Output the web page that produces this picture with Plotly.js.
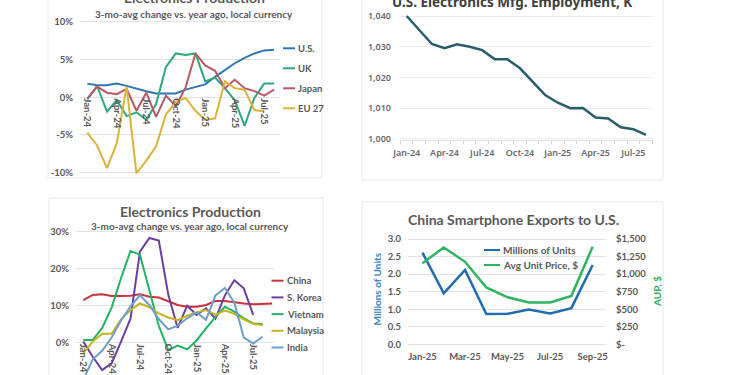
<!DOCTYPE html>
<html><head><meta charset="utf-8">
<script src="https://cdn.plot.ly/plotly-3.0.1.min.js"></script>
<style>html,body{margin:0;padding:0;background:#fff;}#chart{width:750px;height:375px;}</style>
</head><body><div id="chart"></div>
<script>
// ---------- DATA ----------
const months24to25 = ['Jan-24','Feb-24','Mar-24','Apr-24','May-24','Jun-24','Jul-24','Aug-24','Sep-24','Oct-24','Nov-24','Dec-24',
  'Jan-25','Feb-25','Mar-25','Apr-25','May-25','Jun-25','Jul-25','Aug-25','Sep-25'];
const monthsTL = months24to25.slice(0, 20);
const monthsBL = months24to25.slice(0, 21);
const monthsBR = ['Jan-25','Feb-25','Mar-25','Apr-25','May-25','Jun-25','Jul-25','Aug-25','Sep-25'];

// Top-left: Electronics Production (U.S., UK, Japan, EU 27), %
const prodUS    = [1.8, 1.6, 1.6, 1.8, 1.5, 1.2, 0.8, 0.5, 0.5, 0.5, 1.0, 1.4, 1.7, 2.7, 3.6, 4.5, 5.2, 5.8, 6.2, 6.3];
const prodUK    = [-0.3, 1.5, -1.9, -0.4, -2.5, -2.0, -3.0, -0.9, 4.0, 5.8, 5.6, 5.8, 2.1, 2.6, 1.2, -0.4, -3.8, -0.1, 1.8, 1.8];
const prodJapan = [-0.2, 1.4, 0.6, 0.4, 1.1, -1.8, 0.6, -2.6, 0.2, -1.2, 1.3, 5.8, 4.2, 3.5, 1.2, 2.3, 1.2, 0.8, 0.2, 1.0];
const prodEU27  = [-4.7, -6.4, -9.4, -6.1, 1.4, -10.1, -8.4, -6.5, -2.3, -0.6, -0.1, -1.8, -3.0, -2.8, 2.1, 1.2, 1.0, -1.7, -1.9];
const tlNames = ['U.S.', 'UK', 'Japan', 'EU 27'];
const tlTickVals = ['Jan-24','Apr-24','Jul-24','Oct-24','Jan-25','Apr-25','Jul-25'];
const tlYVals = [-10, -5, 0, 5, 10];
const tlYText = ['-10%', '-5%', '0%', '5%', '10%'];

// Top-right: U.S. Electronics Mfg. Employment, K
const employment = [1040.0, 1035.4, 1030.9, 1029.5, 1030.8, 1030.0, 1028.9, 1025.9, 1025.9, 1023.0, 1018.6, 1014.3,
  1011.8, 1010.0, 1010.1, 1007.0, 1006.7, 1003.8, 1003.2, 1001.3];
const trTickText = ['Jan-24','','','Apr-24','','','Jul-24','','','Oct-24','','','Jan-25','','','Apr-25','','','Jul-25',''];
const trYVals = [1000, 1010, 1020, 1030, 1040];
const trYText = ['1,000', '1,010', '1,020', '1,030', '1,040'];

// Bottom-left: Electronics Production (China, S. Korea, Vietnam, Malaysia, India), %
const prodChina    = [11.5, 12.9, 13.1, 12.6, 12.6, 12.7, 13.1, 12.4, 12.2, 11.1, 10.2, 9.7, 9.7, 10.2, 11.3, 11.3, 10.9, 10.6, 10.4, 10.4, 10.6];
const prodKorea    = [0.3, -3.8, -7.4, -5.6, 0.3, 6.5, 24.6, 28.3, 27.6, 13.0, 4.0, 10.0, 7.5, 9.3, 6.5, 12.8, 16.9, 14.7, 7.5];
const prodVietnam  = [0.7, 0.7, 4.0, 9.5, 17.5, 24.8, 23.8, 14.0, 4.5, -2.0, -0.8, -1.8, 0.6, 3.9, 7.0, 9.7, 8.4, 6.6, 5.2, 5.0];
const prodMalaysia = [-2.8, 0.3, 2.4, 2.4, 6.3, 8.8, 10.6, 9.6, 7.9, 6.8, 6.1, 7.3, 8.2, 8.8, 7.6, 8.7, 7.8, 6.3, 5.1, 4.8];
const prodIndia    = [-10.0, -4.5, -2.2, 1.4, 6.0, 9.8, 12.8, 10.2, 6.4, 3.6, 4.6, 6.6, 8.2, 6.2, 12.8, 14.8, 10.8, 1.4, -0.2, 1.6];
const blNames = ['China', 'S. Korea', 'Vietnam', 'Malaysia', 'India'];
const blYVals = [0, 10, 20, 30];
const blYText = ['0%', '10%', '20%', '30%'];

// Bottom-right: China Smartphone Exports to U.S.
const unitsMillions = [2.61, 1.45, 2.12, 0.86, 0.87, 0.99, 0.88, 1.03, 2.26];
const avgUnitPrice  = [1155, 1380, 1175, 810, 670, 595, 595, 690, 1390];
const brNames = ['Millions of Units', 'Avg Unit Price, $'];
const brTickVals = ['Jan-25','Mar-25','May-25','Jul-25','Sep-25'];
const brYVals = [0, 0.5, 1.0, 1.5, 2.0, 2.5, 3.0];
const brYText = ['0.0', '0.5', '1.0', '1.5', '2.0', '2.5', '3.0'];
const brY2Vals = [0, 250, 500, 750, 1000, 1250, 1500];
const brY2Text = ['$-', '$250', '$500', '$750', '$1,000', '$1,250', '$1,500'];

// ---------- STYLE ----------
const W = 750, H = 375;
const PX = x => x / W, PY = y => 1 - y / H;
const GRAY = '#595959';
const FONT = 'Lato, "Open Sans", sans-serif';
const tlColors = ['#2E75B6', '#2DA879', '#B85A66', '#DDB23B'];
const blColors = ['#C8333A', '#6B3FA0', '#22B462', '#C9B21A', '#6E9ED0'];
const trColor = '#2B5C6B';
const brColors = ['#1F6DB0', '#2DB560'];
const tickFont = {family: FONT, size: 9.5, color: GRAY, weight: 700};
const trFont = {family: '"Noto Sans", sans-serif', size: 9, color: '#6b6b6b', weight: 600};

const traces = [];
[prodUS, prodUK, prodJapan, prodEU27].forEach((v, i) => traces.push({
  type: 'scatter', mode: 'lines', name: tlNames[i], x: monthsTL.slice(0, v.length), y: v,
  xaxis: 'x', yaxis: 'y', line: {color: tlColors[i], width: 2}
}));
traces.push({type: 'scatter', mode: 'lines', name: 'Employment', x: monthsTL, y: employment,
  xaxis: 'x2', yaxis: 'y2', line: {color: trColor, width: 2.5}});
[prodChina, prodKorea, prodVietnam, prodMalaysia, prodIndia].forEach((v, i) => traces.push({
  type: 'scatter', mode: 'lines', name: blNames[i], x: monthsBL.slice(0, v.length), y: v,
  xaxis: 'x3', yaxis: 'y3', line: {color: blColors[i], width: 2}
}));
traces.push({type: 'scatter', mode: 'lines', name: brNames[0], x: monthsBR, y: unitsMillions,
  xaxis: 'x4', yaxis: 'y4', line: {color: brColors[0], width: 2.5}});
traces.push({type: 'scatter', mode: 'lines', name: brNames[1], x: monthsBR, y: avgUnitPrice,
  xaxis: 'x4', yaxis: 'y5', line: {color: brColors[1], width: 2.5}});

const catRange = (x0, x1, first, step) => [(x0 - first) / step, (x1 - first) / step];

const shapes = [];
const annotations = [];
[[48, 322, -5, 178], [362, 663, -5, 180], [49, 323, 198, 385], [362, 663, 202, 385]].forEach(c => shapes.push({
  type: 'rect', xref: 'paper', yref: 'paper', x0: PX(c[0]), x1: PX(c[1]), y0: PY(c[3]), y1: PY(c[2]),
  line: {color: '#e9e9e9', width: 1}, fillcolor: '#ffffff', layer: 'below'
}));

function legendEntry(name, color, xLine, yPix, len, size) {
  shapes.push({type: 'line', xref: 'paper', yref: 'paper', x0: PX(xLine), x1: PX(xLine + len),
    y0: PY(yPix), y1: PY(yPix), line: {color: color, width: 2}});
  annotations.push({xref: 'paper', yref: 'paper', x: PX(xLine + len + 1), y: PY(yPix), xanchor: 'left', yanchor: 'middle',
    text: name, showarrow: false, font: {family: FONT, size: size, color: GRAY, weight: 700}});
}
tlNames.forEach((n, i) => legendEntry(n, tlColors[i], 283, 48.3 + 20 * i, 12, 9.5));
blNames.forEach((n, i) => legendEntry(n, blColors[i], 271.5, 280.7 + 16.7 * i, 12, 9.5));
brNames.forEach((n, i) => legendEntry(n, brColors[i], 484, 250 + 15 * i, 16, 10));

function txt(s, x, y, size, color, extra) {
  annotations.push(Object.assign({xref: 'paper', yref: 'paper', x: PX(x), y: PY(y), xanchor: 'center', yanchor: 'middle',
    text: s, showarrow: false, font: {family: FONT, size: size, color: color, weight: 700}}, extra || {}));
}
txt('Electronics Production', 194, -2.5, 14, GRAY);
txt('3-mo-avg change vs. year ago, local currency', 194, 13.5, 10, GRAY);
txt('U.S. Electronics Mfg. Employment, K', 512, 1.5, 13.5, '#404040', {font: {family: '"Noto Sans", sans-serif', size: 13.5, color: '#404040', weight: 700}});
txt('Electronics Production', 190, 211, 14, GRAY);
txt('3-mo-avg change vs. year ago, local currency', 190, 226, 10, GRAY);
txt('China Smartphone Exports to U.S.', 513, 219.5, 14, GRAY);
txt('Millions of Units', 376.5, 289, 10, '#3D85C6', {textangle: -90});
txt('AUP, $', 657, 292, 10, '#2DB35D', {textangle: -90});

const grid = '#e2e2e2';
const layout = {
  width: W, height: H, margin: {l: 0, r: 0, t: 0, b: 0}, showlegend: false,
  paper_bgcolor: '#ffffff', plot_bgcolor: 'rgba(0,0,0,0)', font: {family: FONT, color: GRAY},
  xaxis: {type: 'category', domain: [PX(80), PX(280)], range: catRange(80, 280, 87.3, 9.83),
    anchor: 'free', position: PY(97.3), tickmode: 'array', tickvals: tlTickVals, ticktext: tlTickVals,
    tickangle: 90, showgrid: false, showline: false, ticks: '', tickfont: tickFont},
  yaxis: {domain: [PY(173.8), PY(20.6)], range: [-10.15, 10.15], anchor: 'x', tickmode: 'array',
    tickvals: tlYVals, ticktext: tlYText, showgrid: true, gridcolor: grid, zeroline: false, showline: false,
    ticks: '', ticklabelstandoff: 6, tickfont: tickFont},
  xaxis2: {type: 'category', domain: [PX(400), PX(653)], range: catRange(400, 653, 406.7, 12.59),
    anchor: 'y2', tickmode: 'array', tickvals: monthsTL, ticktext: trTickText, tickson: 'boundaries', tickangle: 0,
    ticks: 'outside', ticklen: 3, tickcolor: '#d6d6d6', showgrid: false, showline: true, linecolor: '#e0e0e0',
    ticklabelstandoff: 4, tickfont: trFont},
  yaxis2: {domain: [PY(140.2), PY(14.8)], range: [999.6, 1040.4], anchor: 'x2', tickmode: 'array',
    tickvals: trYVals, ticktext: trYText, showgrid: true, gridcolor: '#ececec', zeroline: false, showline: false,
    ticks: '', ticklabelstandoff: 8, tickfont: trFont},
  xaxis3: {type: 'category', domain: [PX(76), PX(274)], range: catRange(76, 274, 83.3, 9.44),
    anchor: 'free', position: PY(342.7), tickmode: 'array', tickvals: tlTickVals, ticktext: tlTickVals,
    tickangle: 90, showgrid: false, showline: false, ticks: '', tickfont: tickFont},
  yaxis3: {domain: [0, PY(230)], range: [-8.73, 30.46], anchor: 'x3', tickmode: 'array',
    tickvals: blYVals, ticktext: blYText, showgrid: true, gridcolor: grid, zeroline: false, showline: false,
    ticks: '', ticklabelstandoff: 6, tickfont: tickFont},
  xaxis4: {type: 'category', domain: [PX(408), PX(605)], range: catRange(408, 605, 422.5, 21.27),
    anchor: 'y4', tickmode: 'array', tickvals: brTickVals, ticktext: brTickVals, tickangle: 0, showgrid: false,
    showline: false, ticks: '', ticklabelstandoff: 4, tickfont: tickFont},
  yaxis4: {domain: [PY(345.35), PY(237.95)], range: [-0.03, 3.03], anchor: 'x4', tickmode: 'array',
    tickvals: brYVals, ticktext: brYText, showgrid: true, gridcolor: grid, zeroline: false, showline: false,
    ticks: '', ticklabelstandoff: 6, tickfont: tickFont},
  yaxis5: {domain: [PY(345.35), PY(237.95)], range: [-15, 1515], anchor: 'x4', overlaying: 'y4', side: 'right',
    tickmode: 'array', tickvals: brY2Vals, ticktext: brY2Text, showgrid: false, zeroline: false, showline: false,
    ticks: '', ticklabelstandoff: 10, tickfont: tickFont},
  shapes: shapes, annotations: annotations
};
Plotly.newPlot('chart', traces, layout, {displayModeBar: false, staticPlot: true});
</script></body></html>
